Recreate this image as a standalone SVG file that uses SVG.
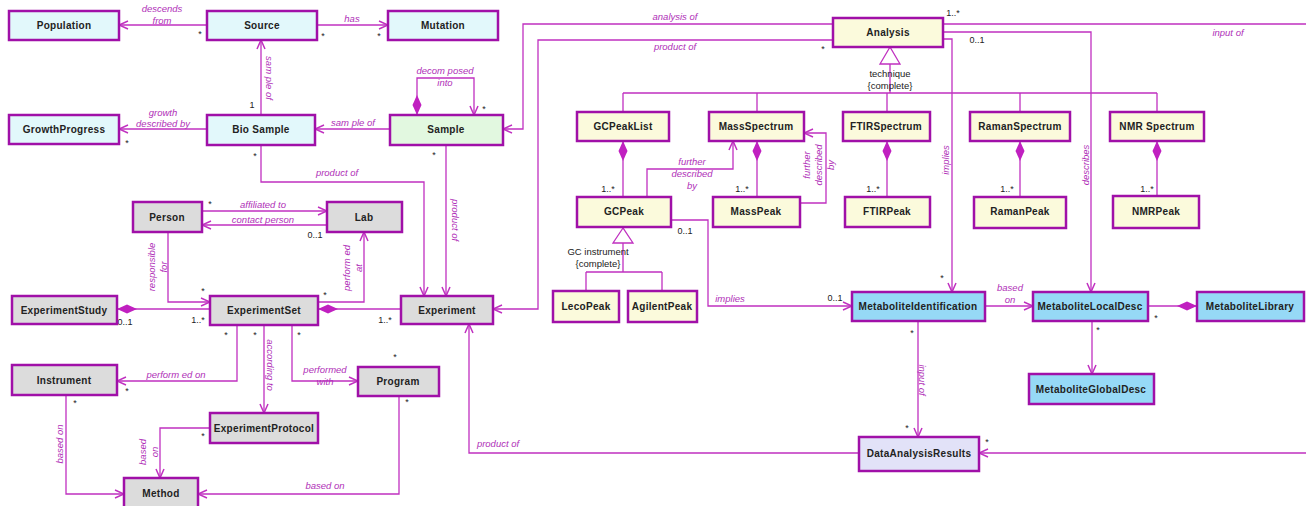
<svg xmlns="http://www.w3.org/2000/svg" width="1306" height="506" viewBox="0 0 1306 506">
<style>
.box{stroke:#a010a8;stroke-width:2.5}
.cy{fill:#e2f8fb}.gr{fill:#e2f8e0}.ye{fill:#fbfadc}.gy{fill:#dcdcdc}.bl{fill:#96d9f6}.lv{fill:#e2e2f8}
.nm{font-family:"Liberation Sans",Arial,sans-serif;font-size:10px;font-weight:bold;fill:#222;text-anchor:middle;letter-spacing:0.3px}
.c{fill:none;stroke:#c030c0;stroke-width:1.3}
.lb{font-family:"Liberation Sans",Arial,sans-serif;font-size:9.5px;font-style:italic;fill:#b030b8;text-anchor:middle}
.m{font-family:"Liberation Sans",Arial,sans-serif;font-size:9px;fill:#222;text-anchor:middle}
.g{font-family:"Liberation Sans",Arial,sans-serif;font-size:9.5px;fill:#222;text-anchor:middle}
.tri{fill:#fff;stroke:#c030c0;stroke-width:1.3}
</style>
<defs>
<marker id="ar" viewBox="0 0 10 10" refX="10" refY="5" markerWidth="10" markerHeight="10" markerUnits="userSpaceOnUse" orient="auto">
<path d="M1,1 L10,5 L1,9" fill="none" stroke="#c030c0" stroke-width="1.5"/>
</marker>
<marker id="dm" viewBox="0 0 20 10" refX="0" refY="5" markerWidth="20" markerHeight="10" markerUnits="userSpaceOnUse" orient="auto">
<path d="M0,5 L10,0.5 L20,5 L10,9.5 Z" fill="#c020c0"/>
</marker>
</defs>
<rect width="1306" height="506" fill="#fff"/>
<g id="connectors">
<path class="c" d="M207,25 L119,25" marker-end="url(#ar)"/>
<path class="c" d="M317,25 L388,25" marker-end="url(#ar)"/>
<path class="c" d="M261,115 L261,40" marker-end="url(#ar)"/>
<path class="c" d="M207,129 L119,129" marker-end="url(#ar)"/>
<path class="c" d="M390,129 L315,129" marker-end="url(#ar)"/>
<path class="c" d="M417,115 L417,78 L474,78 L474,115" marker-start="url(#dm)" marker-end="url(#ar)"/>
<path class="c" d="M833,24 L523,24 L523,129 L503,129" marker-end="url(#ar)"/>
<path class="c" d="M833,40 L538,40 L538,309 L493,309" marker-end="url(#ar)"/>
<path class="c" d="M261,145 L261,182 L424,182 L424,296" marker-end="url(#ar)"/>
<path class="c" d="M446,145 L446,296" marker-end="url(#ar)"/>
<path class="c" d="M202,211 L327,211" marker-end="url(#ar)"/>
<path class="c" d="M327,225 L202,225" marker-end="url(#ar)"/>
<path class="c" d="M168,232 L168,302 L210,302" marker-end="url(#ar)"/>
<path class="c" d="M117,309 L210,309" marker-start="url(#dm)"/>
<path class="c" d="M318,309 L401,309" marker-start="url(#dm)"/>
<path class="c" d="M318,302 L364,302 L364,232" marker-end="url(#ar)"/>
<path class="c" d="M237,325 L237,381 L117,381" marker-end="url(#ar)"/>
<path class="c" d="M264,325 L264,413" marker-end="url(#ar)"/>
<path class="c" d="M292,325 L292,381 L358,381" marker-end="url(#ar)"/>
<path class="c" d="M66,395 L66,494 L124,494" marker-end="url(#ar)"/>
<path class="c" d="M210,428 L160,428 L160,478" marker-end="url(#ar)"/>
<path class="c" d="M399,396 L399,494 L198,494" marker-end="url(#ar)"/>
<path class="c" d="M859,453 L469,453 L469,324" marker-end="url(#ar)"/>
<path class="c" d="M943,24 L1309,24 L1309,453 L979,453" marker-end="url(#ar)"/>
<path class="c" d="M943,32 L1091,32 L1091,292" marker-end="url(#ar)"/>
<path class="c" d="M943,39 L952,39 L952,292" marker-end="url(#ar)"/>
<path class="c" d="M890,64 L890,93 M623,93 L1157,93 M623,93 L623,112 M757,93 L757,112 M887,93 L887,112 M1020,93 L1020,112 M1157,93 L1157,112"/>
<polygon class="tri" points="890,47 880,64 900,64"/>
<path class="c" d="M623,141 L623,197" marker-start="url(#dm)"/>
<path class="c" d="M757,141 L757,197" marker-start="url(#dm)"/>
<path class="c" d="M887,141 L887,197" marker-start="url(#dm)"/>
<path class="c" d="M1020,141 L1020,197" marker-start="url(#dm)"/>
<path class="c" d="M1157,141 L1157,196" marker-start="url(#dm)"/>
<path class="c" d="M647,197 L647,169 L733,169 L733,141" marker-end="url(#ar)"/>
<path class="c" d="M800,203 L826,203 L826,133 L804,133" marker-end="url(#ar)"/>
<path class="c" d="M623,243 L623,272 M586,272 L662,272 M586,272 L586,291 M662,272 L662,291"/>
<polygon class="tri" points="623,228 613,243 633,243"/>
<path class="c" d="M671,220 L708,220 L708,306 L852,306" marker-end="url(#ar)"/>
<path class="c" d="M985,306 L1033,306" marker-end="url(#ar)"/>
<path class="c" d="M1197,306 L1148,306" marker-start="url(#dm)"/>
<path class="c" d="M1092,321 L1092,374" marker-end="url(#ar)"/>
<path class="c" d="M918,321 L918,437" marker-end="url(#ar)"/>
</g>
<g id="labels">
<text class="lb" x="162" y="12">descends</text><text class="lb" x="162" y="24">from</text>
<text class="lb" x="352" y="22">has</text>
<text class="lb" transform="translate(266,78) rotate(90)">sam ple of</text>
<text class="lb" x="163" y="116">growth</text><text class="lb" x="163" y="127">described by</text>
<text class="lb" x="353" y="126">sam ple of</text>
<text class="lb" x="445" y="74">decom posed</text><text class="lb" x="445" y="86">into</text>
<text class="lb" x="675" y="20">analysis of</text>
<text class="lb" x="675" y="50">product of</text>
<text class="lb" x="337" y="176">product of</text>
<text class="lb" transform="translate(452,220) rotate(90)">product of</text>
<text class="lb" x="263" y="208">affiliated to</text><text class="lb" x="263" y="223">contact person</text>
<text class="lb" transform="translate(155,267) rotate(-90)">responsible</text>
<text class="lb" transform="translate(167,267) rotate(-90)">for</text>
<text class="lb" transform="translate(350,268) rotate(-90)">perform ed</text>
<text class="lb" transform="translate(362,268) rotate(-90)">at</text>
<text class="lb" x="176" y="378">perform ed on</text>
<text class="lb" transform="translate(267,365) rotate(90)">according to</text>
<text class="lb" x="325" y="373">performed</text><text class="lb" x="325" y="385">with</text>
<text class="lb" transform="translate(63,444) rotate(-90)">based on</text>
<text class="lb" transform="translate(146,452) rotate(-90)">based</text>
<text class="lb" transform="translate(158,452) rotate(-90)">on</text>
<text class="lb" x="325" y="489">based on</text>
<text class="lb" x="498" y="447">product of</text>
<text class="lb" transform="translate(919,380) rotate(90)">input of</text>
<text class="lb" x="730" y="302">implies</text>
<text class="lb" x="1010" y="291">based</text><text class="lb" x="1010" y="303">on</text>
<text class="lb" transform="translate(949,160) rotate(-90)">implies</text>
<text class="lb" transform="translate(1089,165) rotate(-90)">describes</text>
<text class="lb" x="692" y="165">further</text><text class="lb" x="692" y="177">described</text><text class="lb" x="692" y="189">by</text>
<text class="lb" transform="translate(810,165) rotate(-90)">further</text>
<text class="lb" transform="translate(822,165) rotate(-90)">described</text>
<text class="lb" transform="translate(834,165) rotate(-90)">by</text>
<text class="lb" x="1228" y="36">input of</text>
<text class="g" x="890" y="77">technique</text><text class="g" x="890" y="89">{complete}</text>
<text class="g" x="598" y="255">GC instrument</text><text class="g" x="598" y="267">{complete}</text>
<text class="m" x="200" y="37">*</text><text class="m" x="323" y="39">*</text><text class="m" x="379" y="39">*</text>
<text class="m" x="252" y="108">1</text><text class="m" x="127" y="146">*</text><text class="m" x="255" y="159">*</text>
<text class="m" x="434" y="158">*</text><text class="m" x="484" y="112">*</text><text class="m" x="823" y="52">*</text>
<text class="m" x="953" y="16">1..*</text><text class="m" x="977" y="43">0..1</text>
<text class="m" x="608" y="192">1..*</text><text class="m" x="742" y="192">1..*</text><text class="m" x="873" y="192">1..*</text>
<text class="m" x="1007" y="192">1..*</text><text class="m" x="1147" y="192">1..*</text>
<text class="m" x="210" y="207">*</text><text class="m" x="315" y="238">0..1</text><text class="m" x="203" y="294">*</text>
<text class="m" x="125" y="325">0..1</text><text class="m" x="198" y="323">1..*</text>
<text class="m" x="325" y="298">*</text><text class="m" x="385" y="323">1..*</text>
<text class="m" x="226" y="338">*</text><text class="m" x="255" y="338">*</text><text class="m" x="299" y="338">*</text>
<text class="m" x="127" y="394">*</text><text class="m" x="75" y="406">*</text><text class="m" x="203" y="439">*</text>
<text class="m" x="395" y="360">*</text><text class="m" x="407" y="405">*</text>
<text class="m" x="685" y="234">0..1</text><text class="m" x="835" y="301">0..1</text>
<text class="m" x="942" y="281">*</text><text class="m" x="912" y="336">*</text><text class="m" x="907" y="431">*</text>
<text class="m" x="987" y="445">*</text><text class="m" x="1156" y="321">*</text><text class="m" x="1098" y="333">*</text>
</g>
<g id="Population"><rect class="box cy" x="9" y="11" width="110" height="29"/><text class="nm" x="64" y="29">Population</text></g>
<g id="Source"><rect class="box cy" x="207" y="11" width="110" height="29"/><text class="nm" x="262" y="29">Source</text></g>
<g id="Mutation"><rect class="box cy" x="388" y="11" width="110" height="29"/><text class="nm" x="443" y="29">Mutation</text></g>
<g id="GrowthProgress"><rect class="box cy" x="9" y="115" width="110" height="29"/><text class="nm" x="64" y="133">GrowthProgress</text></g>
<g id="BioSample"><rect class="box cy" x="207" y="115" width="108" height="30"/><text class="nm" x="261" y="133">Bio Sample</text></g>
<g id="Sample"><rect class="box gr" x="390" y="115" width="113" height="30"/><text class="nm" x="446" y="133">Sample</text></g>
<g id="Analysis"><rect class="box ye" x="833" y="18" width="110" height="29"/><text class="nm" x="888" y="36">Analysis</text></g>
<g id="GCPeakList"><rect class="box ye" x="577" y="112" width="92" height="29"/><text class="nm" x="623" y="130">GCPeakList</text></g>
<g id="MassSpectrum"><rect class="box ye" x="709" y="112" width="95" height="29"/><text class="nm" x="756" y="130">MassSpectrum</text></g>
<g id="FTIRSpectrum"><rect class="box ye" x="843" y="112" width="87" height="29"/><text class="nm" x="886" y="130">FTIRSpectrum</text></g>
<g id="RamanSpectrum"><rect class="box ye" x="970" y="112" width="100" height="29"/><text class="nm" x="1020" y="130">RamanSpectrum</text></g>
<g id="NMRSpectrum"><rect class="box ye" x="1110" y="112" width="94" height="29"/><text class="nm" x="1157" y="130">NMR Spectrum</text></g>
<g id="GCPeak"><rect class="box ye" x="577" y="197" width="94" height="30"/><text class="nm" x="624" y="215">GCPeak</text></g>
<g id="MassPeak"><rect class="box ye" x="713" y="197" width="87" height="30"/><text class="nm" x="756" y="215">MassPeak</text></g>
<g id="FTIRPeak"><rect class="box ye" x="845" y="197" width="85" height="30"/><text class="nm" x="887" y="215">FTIRPeak</text></g>
<g id="RamanPeak"><rect class="box ye" x="974" y="197" width="92" height="31"/><text class="nm" x="1020" y="215">RamanPeak</text></g>
<g id="NMRPeak"><rect class="box ye" x="1113" y="196" width="86" height="32"/><text class="nm" x="1156" y="215">NMRPeak</text></g>
<g id="LecoPeak"><rect class="box ye" x="553" y="291" width="66" height="31"/><text class="nm" x="586" y="310">LecoPeak</text></g>
<g id="AgilentPeak"><rect class="box ye" x="628" y="291" width="69" height="31"/><text class="nm" x="662" y="310">AgilentPeak</text></g>
<g id="Person"><rect class="box gy" x="133" y="202" width="69" height="30"/><text class="nm" x="167" y="221">Person</text></g>
<g id="Lab"><rect class="box gy" x="327" y="202" width="75" height="30"/><text class="nm" x="364" y="221">Lab</text></g>
<g id="ExperimentStudy"><rect class="box gy" x="12" y="296" width="105" height="28"/><text class="nm" x="64" y="314">ExperimentStudy</text></g>
<g id="ExperimentSet"><rect class="box gy" x="210" y="296" width="108" height="29"/><text class="nm" x="264" y="314">ExperimentSet</text></g>
<g id="Experiment"><rect class="box gy" x="401" y="296" width="92" height="28"/><text class="nm" x="447" y="314">Experiment</text></g>
<g id="Instrument"><rect class="box gy" x="12" y="365" width="105" height="30"/><text class="nm" x="64" y="384">Instrument</text></g>
<g id="Program"><rect class="box gy" x="358" y="367" width="81" height="29"/><text class="nm" x="398" y="385">Program</text></g>
<g id="ExperimentProtocol"><rect class="box gy" x="210" y="413" width="108" height="30"/><text class="nm" x="264" y="432">ExperimentProtocol</text></g>
<g id="Method"><rect class="box gy" x="124" y="478" width="74" height="30"/><text class="nm" x="161" y="497">Method</text></g>
<g id="MetaboliteIdentification"><rect class="box bl" x="852" y="292" width="133" height="29"/><text class="nm" x="918" y="310">MetaboliteIdentification</text></g>
<g id="MetaboliteLocalDesc"><rect class="box bl" x="1033" y="292" width="115" height="29"/><text class="nm" x="1090" y="310">MetaboliteLocalDesc</text></g>
<g id="MetaboliteLibrary"><rect class="box bl" x="1197" y="292" width="107" height="29"/><text class="nm" x="1250" y="310">MetaboliteLibrary</text></g>
<g id="MetaboliteGlobalDesc"><rect class="box bl" x="1029" y="374" width="125" height="30"/><text class="nm" x="1091" y="393">MetaboliteGlobalDesc</text></g>
<g id="DataAnalysisResults"><rect class="box lv" x="859" y="437" width="120" height="34"/><text class="nm" x="919" y="457">DataAnalysisResults</text></g>
</svg>
